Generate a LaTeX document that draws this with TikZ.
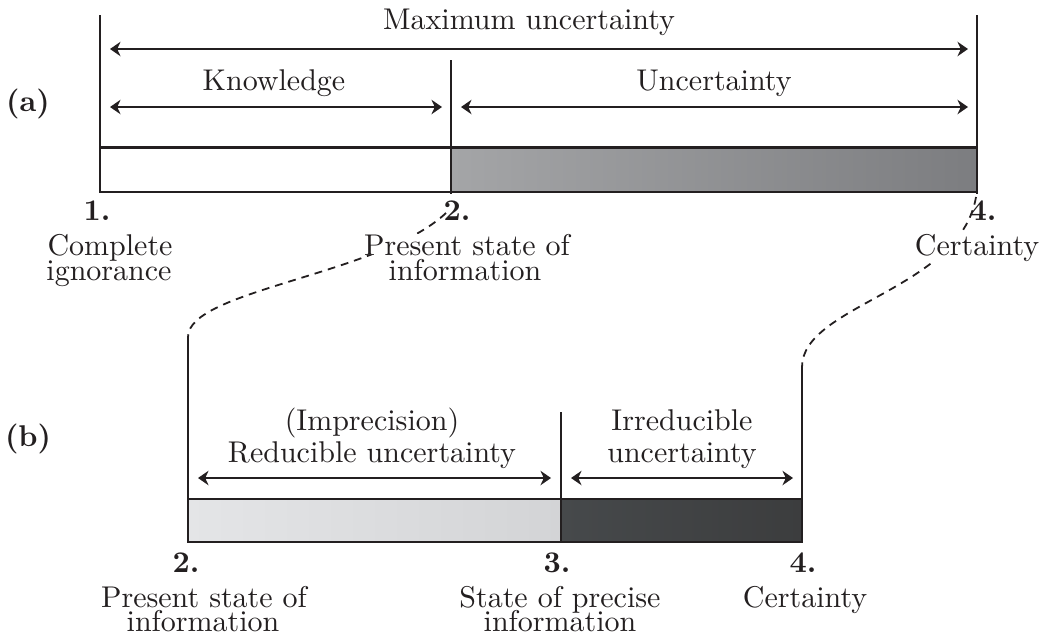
\documentclass[tikz,border=0pt]{standalone}
\usetikzlibrary{arrows.meta}
\definecolor{ink}{RGB}{35,31,32}
\definecolor{topL}{RGB}{164,165,167}
\definecolor{topR}{RGB}{124,125,128}
\definecolor{lightL}{RGB}{228,229,231}
\definecolor{lightR}{RGB}{211,212,214}
\definecolor{darkL}{RGB}{70,73,75}
\definecolor{darkM}{RGB}{86,88,90}
\definecolor{darkR}{RGB}{60,61,62}
\begin{document}
\begin{tikzpicture}[x=0.3333pt,y=-0.3333pt,
  txt/.style={anchor=base,inner sep=0pt,text=ink,font=\fontsize{10}{12}\selectfont},
  masked/.style={txt,fill=white},
  num/.style={txt,font=\fontsize{10}{12}\selectfont\bfseries},
  rule/.style={draw=ink,line width=0.7pt},
  spanarrow/.style={draw=ink,line width=0.7pt,
    {Stealth[length=3.5pt,width=4.8pt,inset=1.1pt]}-{Stealth[length=3.5pt,width=4.8pt,inset=1.1pt]}},
  link/.style={draw=ink,line width=0.6pt,dash pattern=on 2.6pt off 2pt},
  bar/.style={draw=ink,line width=0.85pt}]

\path[use as bounding box] (0,0) rectangle (1044,637);

% ---------- (a) upper scale ----------
\coordinate (A1t) at (100,15);  \coordinate (A1b) at (100,192);
\coordinate (A2t) at (451,60);  \coordinate (A2b) at (451,194);
\coordinate (A4t) at (977,15);  \coordinate (A4b) at (977,194);

\shade[left color=topL,right color=topR] (451,147.5) rectangle (977,192);
\draw[bar] (100,147.5) rectangle (977,192);
\draw[rule] (A1t) -- (A1b);
\draw[rule] (A2t) -- (A2b);
\draw[rule] (A4t) -- (A4b);

\coordinate (M1) at (110,49);  \coordinate (M2) at (968,49);
\coordinate (K1) at (110,107); \coordinate (K2) at (442,107);
\coordinate (U1) at (461,107); \coordinate (U2) at (968,107);
\draw[spanarrow] (M1) -- (M2);
\draw[spanarrow] (K1) -- (K2);
\draw[spanarrow] (U1) -- (U2);

% ---------- (b) lower scale ----------
\coordinate (B2t) at (188,337); \coordinate (B2b) at (188,542);
\coordinate (B3t) at (561,412); \coordinate (B3b) at (561,542);
\coordinate (B4t) at (802,367); \coordinate (B4b) at (802,542);

\shade[left color=lightL,right color=lightR] (188,499) rectangle (561,542);
\shade[left color=darkL,middle color=darkM,right color=darkR] (561,499) rectangle (802,542);
\draw[bar] (188,499) rectangle (802,542);
\draw[rule] (B2t) -- (B2b);
\draw[rule] (B3t) -- (B3b);
\draw[rule] (B4t) -- (B4b);

\coordinate (R1) at (198,478); \coordinate (R2) at (551,478);
\coordinate (I1) at (571,478); \coordinate (I2) at (793,478);
\draw[spanarrow] (R1) -- (R2);
\draw[spanarrow] (I1) -- (I2);

% ---------- dashed links from (a) to (b) ----------
\coordinate (L0) at (446,213);
\coordinate (R0) at (976,197);
\draw[link] (L0) .. controls (380,275) and (188,290) .. (B2t);
\draw[link] (R0) .. controls (960,290) and (802,305) .. (B4t);

% ---------- labels (a) ----------
\node[num] (pa) at (28,111) {(a)};
\node[txt] (tmax) at (529,29) {Maximum uncertainty};
\node[txt] (tknow) at (274,90) {Knowledge};
\node[txt] (tunc) at (714,90) {Uncertainty};

\node[num] (na1) at (97,220) {1.};
\node[txt] (ta1a) at (110,255) {Complete};
\node[txt] (ta1b) at (109,280) {ignorance};

\node[num] (na2) at (457,220) {2.};
\node[masked] (ta2a) at (467,255) {Present state of};
\node[masked] (ta2b) at (465,280) {information};

\node[num] (na4) at (983,220) {4.};
\node[masked] (ta4) at (977,255) {Certainty};

% ---------- labels (b) ----------
\node[num] (pb) at (28,446) {(b)};
\node[txt] (timp) at (372,430) {(Imprecision)};
\node[txt] (tred) at (372,462) {Reducible uncertainty};
\node[txt] (tirr) at (682,430) {Irreducible};
\node[txt] (tirr2) at (682,462) {uncertainty};

\node[num] (nb2) at (186,572) {2.};
\node[txt] (tb2a) at (204,607) {Present state of};
\node[txt] (tb2b) at (203,631) {information};

\node[num] (nb3) at (557,572) {3.};
\node[txt] (tb3a) at (560,607) {State of precise};
\node[txt] (tb3b) at (560,631) {information};

\node[num] (nb4) at (803,572) {4.};
\node[txt] (tb4) at (805,607) {Certainty};
\end{tikzpicture}
\end{document}
